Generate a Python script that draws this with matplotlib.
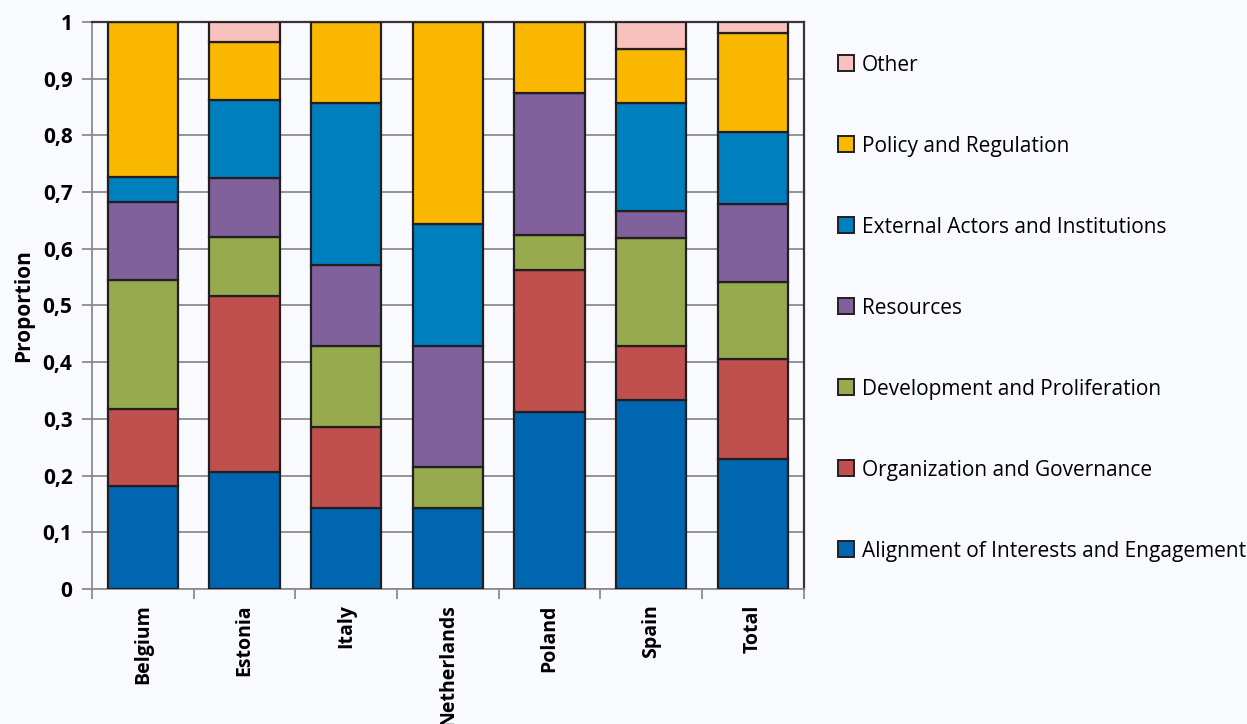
import matplotlib
matplotlib.use("Agg")
import matplotlib.pyplot as plt
from matplotlib.patches import Patch
from matplotlib.ticker import FixedLocator, FuncFormatter
import numpy as np

countries = ["Belgium", "Estonia", "Italy", "Netherlands", "Poland", "Spain", "Total"]

# stacked shares, bottom to top
alignment = [4/22, 6/29, 2/14, 2/14, 5/16, 7/21, 0.230]
organization = [3/22, 9/29, 2/14, 0.0, 4/16, 2/21, 0.175]
development = [5/22, 3/29, 2/14, 1/14, 1/16, 4/21, 0.137]
resources = [3/22, 3/29, 2/14, 3/14, 4/16, 1/21, 0.137]
external = [1/22, 4/29, 4/14, 3/14, 0.0, 4/21, 0.127]
policy = [6/22, 3/29, 2/14, 5/14, 2/16, 2/21, 0.175]
other = [0.0, 1/29, 0.0, 0.0, 0.0, 1/21, 0.019]

series = [
    ("Alignment of Interests and Engagement", alignment, "#0066b0"),
    ("Organization and Governance", organization, "#c0504d"),
    ("Development and Proliferation", development, "#98aa4e"),
    ("Resources", resources, "#80619b"),
    ("External Actors and Institutions", external, "#007fbf"),
    ("Policy and Regulation", policy, "#fbb800"),
    ("Other", other, "#f8c1bd"),
]

plt.rcParams["font.family"] = ["Open Sans", "DejaVu Sans"]
bg = "#f9fafd"

fig = plt.figure(figsize=(12.47, 7.24), dpi=100, facecolor=bg)
ax = fig.add_axes([0.0738, 0.1865, 0.5706, 0.7831])
ax.set_facecolor(bg)

x = np.arange(len(countries))
bottom = np.zeros(len(countries))
handles = []
for label, vals, color in series:
    vals = np.array(vals)
    ax.bar(x, vals, bottom=bottom, width=0.69, color=color,
           edgecolor="#231f20", linewidth=1.6, zorder=3)
    bottom += vals
    handles.append(Patch(facecolor=color, edgecolor="#231f20", linewidth=1.4, label=label))

ax.set_xlim(-0.5, len(countries) - 0.5)
ax.set_ylim(0, 1)
ax.yaxis.set_major_locator(FixedLocator(np.arange(0, 1.01, 0.1)))
ax.yaxis.set_major_formatter(FuncFormatter(
    lambda v, p: "0" if abs(v) < 1e-9 else ("1" if abs(v - 1) < 1e-9 else f"{v:.1f}".replace(".", ","))))
ax.grid(axis="y", color="#8c8c8c", linewidth=1.3, zorder=0)

# category labels centred, tick marks on category boundaries
ax.set_xticks(x)
ax.set_xticklabels(countries, rotation=90, fontsize=14, fontweight="bold")
ax.tick_params(axis="x", length=0, pad=11)
ax.set_xticks(np.arange(-0.5, len(countries)), minor=True)
ax.tick_params(axis="x", which="minor", length=7, width=1.3, color="#8c8c8c")
ax.tick_params(axis="y", length=7, width=1.3, color="#8c8c8c", labelsize=15, pad=7)
for t in ax.get_yticklabels():
    t.set_fontweight("bold")

for side in ["left", "bottom"]:
    ax.spines[side].set_color("#8c8c8c")
    ax.spines[side].set_linewidth(1.3)
ax.spines["top"].set_color("#3a3434")
ax.spines["right"].set_color("#3a3434")
ax.spines["top"].set_linewidth(1.6)
ax.spines["right"].set_linewidth(1.6)

ax.set_ylabel("Proportion", fontsize=15, fontweight="bold", labelpad=6)

fig.legend(handles=handles[::-1], loc="upper left", bbox_to_anchor=(0.665, 0.936),
           frameon=False, fontsize=15, handlelength=0.8, handleheight=0.8,
           handletextpad=0.35, labelspacing=2.88, borderaxespad=0)

fig.savefig("out.png", dpi=100, facecolor=bg)
